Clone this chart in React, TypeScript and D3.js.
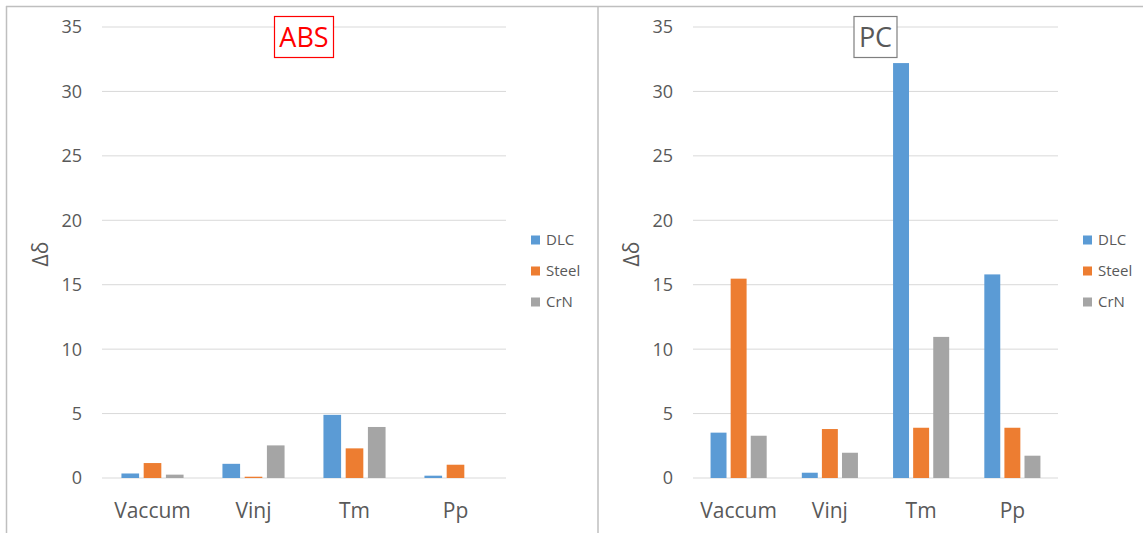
import React from "react";
import * as d3 from "d3";

const categories = ["Vaccum", "Vinj", "Tm", "Pp"];
const seriesNames = ["DLC", "Steel", "CrN"];
const absDLC = [0.35, 1.1, 4.9, 0.18];
const absSteel = [1.16, 0.1, 2.3, 1.03];
const absCrN = [0.26, 2.53, 3.96, 0];
const pcDLC = [3.52, 0.41, 32.2, 15.8];
const pcSteel = [15.47, 3.8, 3.9, 3.9];
const pcCrN = [3.28, 1.96, 10.95, 1.73];
const yTicks = [0, 5, 10, 15, 20, 25, 30, 35];
const colors = ["#5B9BD5", "#ED7D31", "#A5A5A5"];
const FONT = "'Open Sans', 'Noto Sans', sans-serif";

type PanelProps = {
  x0: number;
  x1: number;
  values: number[][];
  title: string;
  titleColor: string;
  titleBorder: string;
  tickRight: number;
};

function Panel({ x0, x1, values, title, titleColor, titleBorder, tickRight }: PanelProps) {
  const y = d3.scaleLinear().domain([0, 35]).range([478, 27]);
  const xb = d3.scaleBand<string>().domain(categories).range([x0, x1]).padding(0);
  const groupW = xb.bandwidth() * 0.615;
  const cx = (x0 + x1) / 2;
  const titleW = title.length > 2 ? 59 : 43;
  return (
    <g>
      {yTicks.map((t) => (
        <g key={t}>
          <line x1={x0} x2={x1} y1={y(t)} y2={y(t)} stroke="#D9D9D9" strokeWidth={1} />
          <text x={tickRight} y={y(t)} dy="0.36em" textAnchor="end" fontSize={18} fill="#595959" fontFamily={FONT}>
            {t}
          </text>
        </g>
      ))}
      {categories.map((c, ci) => {
        const center = (xb(c) as number) + xb.bandwidth() / 2;
        const xs = d3
          .scaleBand<string>()
          .domain(seriesNames)
          .range([center - groupW / 2, center + groupW / 2])
          .paddingInner(0.206)
          .paddingOuter(0);
        return (
          <g key={c}>
            {seriesNames.map((s, si) => {
              const v = values[si][ci];
              if (v <= 0) return null;
              return (
                <rect
                  key={s}
                  x={xs(s)}
                  y={y(v)}
                  width={xs.bandwidth()}
                  height={y(0) - y(v)}
                  fill={colors[si]}
                />
              );
            })}
            <text x={center} y={518} textAnchor="middle" fontSize={21} fill="#595959" fontFamily={FONT}>
              {c}
            </text>
          </g>
        );
      })}
      <text
        transform={`translate(${x0 - 61},254) rotate(-90)`}
        textAnchor="middle"
        dy="0.35em"
        fontSize={21}
        fill="#595959"
        fontFamily={FONT}
      >
        Δδ
      </text>
      <rect x={cx - titleW / 2} y={16.5} width={titleW} height={41} fill="white" stroke={titleBorder} strokeWidth={1.2} />
      <text x={cx} y={37} dy="0.36em" textAnchor="middle" fontSize={27} fill={titleColor} fontFamily={FONT}>
        {title}
      </text>
      {seriesNames.map((s, i) => (
        <g key={s}>
          <rect x={x1 + 25} y={240 + i * 31 - 4.5} width={9} height={9} fill={colors[i]} />
          <text x={x1 + 40} y={240 + i * 31} dy="0.36em" fontSize={15} fill="#595959" fontFamily={FONT}>
            {s}
          </text>
        </g>
      ))}
    </g>
  );
}

export default function App() {
  return (
    <svg
      width={1143}
      height={533}
      style={{ position: "absolute", left: 0, top: 0, background: "white" }}
    >
      <rect x={0} y={0} width={1143} height={533} fill="white" />
      <Panel
        x0={102}
        x1={506}
        values={[absDLC, absSteel, absCrN]}
        title="ABS"
        titleColor="#FF0000"
        titleBorder="#FF0000"
        tickRight={82}
      />
      <Panel
        x0={693}
        x1={1058}
        values={[pcDLC, pcSteel, pcCrN]}
        title="PC"
        titleColor="#595959"
        titleBorder="#7F7F7F"
        tickRight={673}
      />
      <line x1={6.5} x2={6.5} y1={6} y2={533} stroke="#BFBFBF" strokeWidth={1.5} />
      <line x1={6} x2={1143} y1={6.5} y2={6.5} stroke="#BFBFBF" strokeWidth={1.5} />
      <line x1={598} x2={598} y1={6} y2={533} stroke="#BFBFBF" strokeWidth={1.5} />
    </svg>
  );
}
